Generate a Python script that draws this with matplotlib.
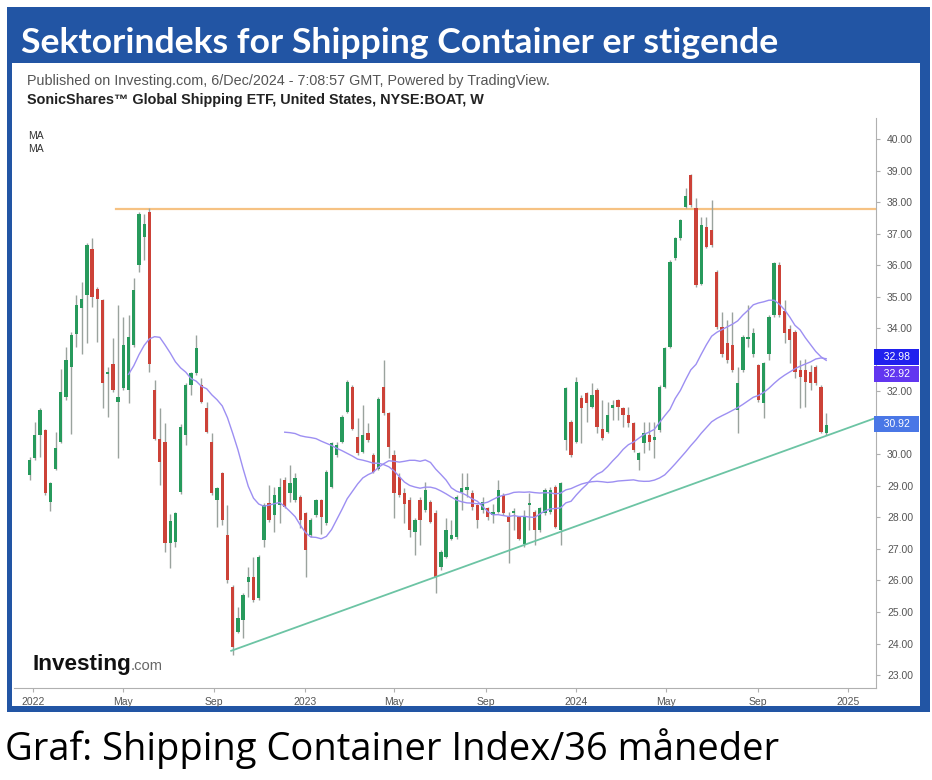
import matplotlib
matplotlib.use("Agg")
import matplotlib.pyplot as plt
import matplotlib.dates as mdates
from matplotlib.patches import Rectangle
import numpy as np
import pandas as pd

# weekly candles, SonicShares Global Shipping ETF (NYSE:BOAT)
first_week = "2021-12-27"
open_ = [29.34, 29.87, 30.61, 30.77, 28.50, 29.55, 30.40, 31.83, 32.78, 33.83,
         34.63, 35.05, 36.53, 35.26, 34.89, 32.55, 32.88, 31.67, 32.09, 32.04,
         33.47, 36.00, 36.90, 37.69, 32.04, 30.50, 30.40, 27.20, 27.23, 28.82,
         30.61, 32.20, 32.57, 32.20, 31.46, 30.40, 28.55, 29.40, 27.44, 25.80,
         24.37, 24.75, 25.95, 26.12, 25.43, 27.28, 28.45, 28.08, 28.39, 29.19,
         28.76, 28.55, 28.66, 28.13, 27.44, 28.08, 28.55, 27.81, 28.97, 29.98,
         30.40, 31.35, 32.14, 30.56, 30.08, 30.67, 29.98, 29.55, 32.14, 31.30,
         29.98, 29.29, 28.76, 28.55, 27.55, 28.55, 28.23, 28.50, 28.13, 26.44,
         26.75, 27.33, 27.39, 28.82, 28.87, 28.76, 28.39, 28.23, 28.29, 28.07,
         28.18, 28.71, 28.02, 28.13, 28.02, 27.17, 28.40, 28.18, 27.60, 28.13,
         28.18, 28.97, 27.60, 30.46, 31.04, 30.40, 31.78, 31.94, 31.51, 32.04,
         30.82, 30.72, 31.46, 31.72, 31.46, 31.25, 30.98, 29.82, 30.35, 30.61,
         30.45, 30.77, 32.14, 33.41, 36.22, 36.85, 37.85, 38.86, 37.80, 35.42,
         37.22, 37.11, 35.79, 34.05, 33.52, 33.47, 31.40, 32.68, 33.65, 33.20,
         32.83, 31.62, 33.20, 34.42, 36.00, 34.55, 33.99, 33.89, 32.67, 32.68,
         32.62, 32.78, 32.14, 30.67]
high = [29.92, 31.03, 31.46, 30.82, 29.13, 30.72, 32.72, 33.41, 33.89, 35.05,
        35.47, 36.69, 36.85, 35.31, 34.94, 32.78, 33.68, 34.73, 34.36, 34.42,
        35.58, 37.69, 37.64, 37.80, 32.35, 31.46, 30.98, 28.10, 28.18, 30.95,
        32.25, 32.62, 33.78, 32.41, 31.67, 30.67, 28.97, 29.45, 28.39, 25.85,
        25.17, 25.59, 26.44, 26.75, 26.81, 28.45, 29.03, 28.97, 29.24, 29.29,
        29.66, 29.40, 28.71, 28.18, 27.97, 28.60, 28.60, 29.50, 30.40, 30.40,
        31.25, 32.36, 32.20, 31.14, 31.56, 30.98, 30.03, 31.83, 32.99, 31.35,
        30.14, 29.40, 28.92, 28.66, 27.97, 28.66, 29.13, 28.55, 28.23, 26.97,
        27.97, 27.92, 28.71, 29.40, 29.40, 28.87, 28.44, 28.66, 28.34, 28.44,
        29.19, 28.76, 28.18, 28.29, 28.05, 28.23, 28.76, 28.23, 28.34, 28.92,
        28.97, 29.03, 29.13, 32.14, 31.09, 32.46, 31.88, 31.99, 32.25, 32.09,
        31.72, 31.67, 31.72, 31.77, 31.51, 31.51, 31.04, 30.08, 31.04, 31.04,
        31.04, 32.19, 33.41, 36.16, 36.90, 37.48, 38.45, 38.88, 38.12, 37.54,
        37.54, 38.07, 35.84, 34.52, 34.26, 34.52, 32.78, 33.78, 34.74, 34.00,
        32.88, 32.94, 34.42, 36.11, 36.11, 34.90, 34.10, 33.94, 32.99, 33.04,
        32.83, 32.83, 32.20, 31.30]
low = [29.18, 29.82, 29.92, 28.71, 28.20, 29.50, 30.35, 31.72, 30.66, 33.41,
       33.20, 33.52, 34.68, 33.57, 31.46, 31.19, 31.98, 29.87, 32.04, 31.62,
       33.41, 35.79, 36.16, 32.62, 30.45, 29.02, 26.90, 26.40, 27.07, 28.75,
       30.30, 31.88, 32.52, 31.62, 30.67, 28.71, 27.71, 27.76, 25.91, 23.64,
       24.32, 24.17, 25.49, 25.33, 25.38, 27.07, 27.87, 27.55, 27.81, 28.29,
       28.50, 28.50, 27.65, 26.12, 27.39, 28.02, 27.49, 27.76, 28.92, 29.92,
       30.35, 31.30, 30.77, 29.98, 30.03, 30.40, 29.40, 29.50, 31.25, 29.87,
       27.97, 28.66, 27.81, 27.39, 26.81, 27.12, 28.18, 27.81, 25.59, 26.33,
       26.70, 27.28, 27.33, 28.23, 28.66, 28.23, 27.65, 28.13, 27.92, 27.81,
       28.13, 28.08, 26.54, 27.60, 27.28, 27.07, 27.60, 27.12, 27.55, 28.08,
       28.10, 27.65, 27.12, 30.14, 29.93, 30.35, 30.35, 31.04, 31.46, 30.67,
       30.46, 30.67, 31.09, 31.09, 30.88, 30.88, 30.08, 29.50, 30.03, 30.14,
       29.87, 30.72, 32.09, 33.36, 36.16, 36.80, 37.80, 37.85, 35.32, 35.37,
       36.54, 36.59, 33.99, 33.10, 32.89, 32.62, 30.67, 32.62, 33.42, 33.10,
       31.67, 31.14, 33.00, 34.37, 34.37, 33.52, 32.89, 32.41, 31.46, 31.51,
       32.04, 32.20, 30.67, 30.61]
close = [29.82, 30.61, 31.40, 28.76, 29.08, 30.19, 31.98, 32.99, 33.78, 34.73,
         34.94, 36.64, 35.00, 34.94, 32.25, 32.62, 32.04, 31.83, 33.47, 33.73,
         35.21, 37.64, 37.32, 32.88, 30.50, 29.77, 27.20, 27.90, 28.13, 30.88,
         32.20, 32.57, 33.36, 31.67, 30.72, 28.76, 28.92, 27.92, 26.01, 23.90,
         24.80, 25.54, 26.12, 25.38, 26.76, 28.39, 27.92, 28.71, 28.97, 28.34,
         29.08, 29.24, 27.92, 26.97, 27.92, 28.55, 28.02, 29.45, 30.35, 30.29,
         31.19, 32.30, 30.82, 30.03, 30.61, 30.45, 29.45, 31.77, 31.30, 30.24,
         28.76, 28.71, 28.44, 27.60, 27.92, 27.92, 28.87, 27.86, 26.12, 26.91,
         27.60, 27.44, 28.66, 28.92, 28.97, 28.34, 27.92, 28.50, 28.02, 28.18,
         28.87, 28.13, 27.86, 28.18, 27.33, 28.02, 28.44, 27.60, 28.29, 28.87,
         28.87, 27.70, 29.08, 32.09, 29.98, 32.30, 31.46, 31.62, 31.88, 30.88,
         30.51, 31.25, 31.56, 31.51, 31.25, 30.98, 30.14, 30.03, 30.67, 30.40,
         30.56, 32.14, 33.36, 36.11, 36.85, 37.43, 38.20, 37.91, 35.37, 37.27,
         36.59, 36.64, 34.05, 33.20, 32.99, 32.68, 32.25, 33.73, 33.72, 33.84,
         31.72, 32.89, 34.37, 36.06, 34.42, 33.85, 33.62, 32.62, 32.46, 32.30,
         32.25, 32.25, 30.72, 30.92]

# price tags on the right axis (MA 20, MA 50, last close) as shown
tag_values = [32.98, 32.92, 30.92]
tag_colors = ["#2020ee", "#6236f0", "#4a77e6"]

# drawn lines on the chart
resistance_level = 37.78
resistance_start = "2022-04-22"
trend_start = ("2022-09-24", 23.77)
trend_end = ("2025-02-07", 31.16)

y_ticks = np.arange(23, 41, 1)
hidden_ticks = [31, 33]   # covered by the price tags
x_range = ("2021-12-06", "2025-02-07")
y_range = (22.59, 40.67)

BLUE = "#2255a4"
GREEN = "#279a5c"
RED = "#cc4238"
WICK = "#9aa39e"
MA_COL = "#9d8ff2"

W, H = 932, 780
fig = plt.figure(figsize=(W / 100, H / 100), dpi=100)
fig.patch.set_facecolor("white")


def fig_rect(x0, y0, x1, y1, color):
    fig.add_artist(Rectangle((x0 / W, 1 - y1 / H), (x1 - x0) / W, (y1 - y0) / H,
                             transform=fig.transFigure, color=color, lw=0, zorder=0))


fig_rect(7, 7, 930, 63, BLUE)
fig_rect(7, 7, 12, 712, BLUE)
fig_rect(920, 7, 930, 712, BLUE)
fig_rect(7, 706, 930, 712, BLUE)

title = fig.text(21 / W, 1 - 53 / H, "Sektorindeks for Shipping Container er stigende",
                 color="white", fontsize=24, fontweight="bold", family="Lato", va="baseline")
pub = fig.text(27 / W, 1 - 85 / H,
               "Published on Investing.com, 6/Dec/2024 - 7:08:57 GMT, Powered by TradingView.",
               color="#555555", fontsize=8, family="Liberation Sans", va="baseline")
sub = fig.text(27 / W, 1 - 104 / H,
               "SonicShares\u2122 Global Shipping ETF, United States, NYSE:BOAT, W",
               color="#222222", fontsize=8, fontweight="bold", family="Liberation Sans", va="baseline")
caption = fig.text(5 / W, 1 - 760 / H, "Graf: Shipping Container Index/36 måneder",
                   color="black", fontsize=26, family="Open Sans", va="baseline")

ax = fig.add_axes([14 / W, 1 - 688 / H, (876 - 14) / W, (688 - 118) / H])
ax.set_facecolor("white")

dates = pd.date_range(first_week, periods=len(close), freq="7D")
x = mdates.date2num(dates)
o = np.array(open_)
c = np.array(close)
hi = np.array(high)
lo = np.array(low)
colors = np.where(c >= o, GREEN, RED)

ax.vlines(x, lo, hi, color=WICK, lw=1.0, zorder=2)
ax.bar(x, np.maximum(np.abs(c - o), 0.07), bottom=np.minimum(o, c), width=4.4,
       color=colors, zorder=3)

ma20 = pd.Series(c).rolling(20).mean().to_numpy()
ma50 = pd.Series(c).rolling(50).mean().to_numpy()
ax.plot(x, ma20, color=MA_COL, lw=1.0, zorder=4)
ax.plot(x, ma50, color=MA_COL, lw=1.0, zorder=4)

xr = mdates.date2num(pd.to_datetime(list(x_range)))
ax.plot([mdates.date2num(pd.Timestamp(resistance_start)), xr[1]],
        [resistance_level, resistance_level], color="#f6c283", lw=1.6, zorder=1)
ax.plot(mdates.date2num(pd.to_datetime([trend_start[0], trend_end[0]])),
        [trend_start[1], trend_end[1]], color="#6cc4a4", lw=1.3, zorder=5)

ax.set_xlim(xr)
ax.set_ylim(y_range)

for side in ["left", "top"]:
    ax.spines[side].set_visible(False)
for side in ["right", "bottom"]:
    ax.spines[side].set_color("#b0b0b0")

ax.yaxis.tick_right()
ax.set_yticks(y_ticks)
ax.set_yticklabels(["" if v in hidden_ticks else f"{v:.2f}" for v in y_ticks])
ax.xaxis.set_major_locator(mdates.MonthLocator(bymonth=[1, 5, 9]))
ax.xaxis.set_major_formatter(plt.FuncFormatter(
    lambda v, p: mdates.num2date(v).strftime("%Y" if mdates.num2date(v).month == 1 else "%b")))
ax.tick_params(axis="both", colors="#b0b0b0", labelcolor="#555555", labelsize=7.5, length=3)
ax.tick_params(axis="y", pad=5)
for lab in ax.get_xticklabels() + ax.get_yticklabels():
    lab.set_family("Liberation Sans")

# tags are nudged apart vertically like on the original so they do not overlap
ytr = ax.get_yaxis_transform()
for val, yoff, fc in zip(tag_values, [0.11, -0.37, 0.04], tag_colors):
    ax.text(1.002, val + yoff, f"  {val:.2f}  ", transform=ytr, ha="left", va="center",
            color="white", fontsize=7.5, family="Liberation Sans", clip_on=False, zorder=6,
            bbox=dict(boxstyle="square,pad=0.32", fc=fc, ec="none"))

ax.text(0.016, 0.968, "MA", transform=ax.transAxes, fontsize=7.5, color="#333333",
        family="Liberation Sans", va="center")
ax.text(0.016, 0.945, "MA", transform=ax.transAxes, fontsize=7.5, color="#333333",
        family="Liberation Sans", va="center")

logo = fig.text(32 / W, 1 - 670 / H, "Investing", fontsize=14, fontweight="bold",
                color="#111111", family="Liberation Sans", va="baseline")
logo_com = fig.text(131 / W, 1 - 670 / H, ".com", fontsize=10, color="#666666",
                    family="Liberation Sans", va="baseline")

# scale the header/footer texts so their widths match the original layout
fig.canvas.draw()
r = fig.canvas.get_renderer()
for t, target in [(title, 756), (pub, 525), (sub, 458), (caption, 775), (logo, 99), (logo_com, 32)]:
    w = t.get_window_extent(r).width
    t.set_fontsize(t.get_fontsize() * target / w)

fig.savefig("out.png", dpi=100)
